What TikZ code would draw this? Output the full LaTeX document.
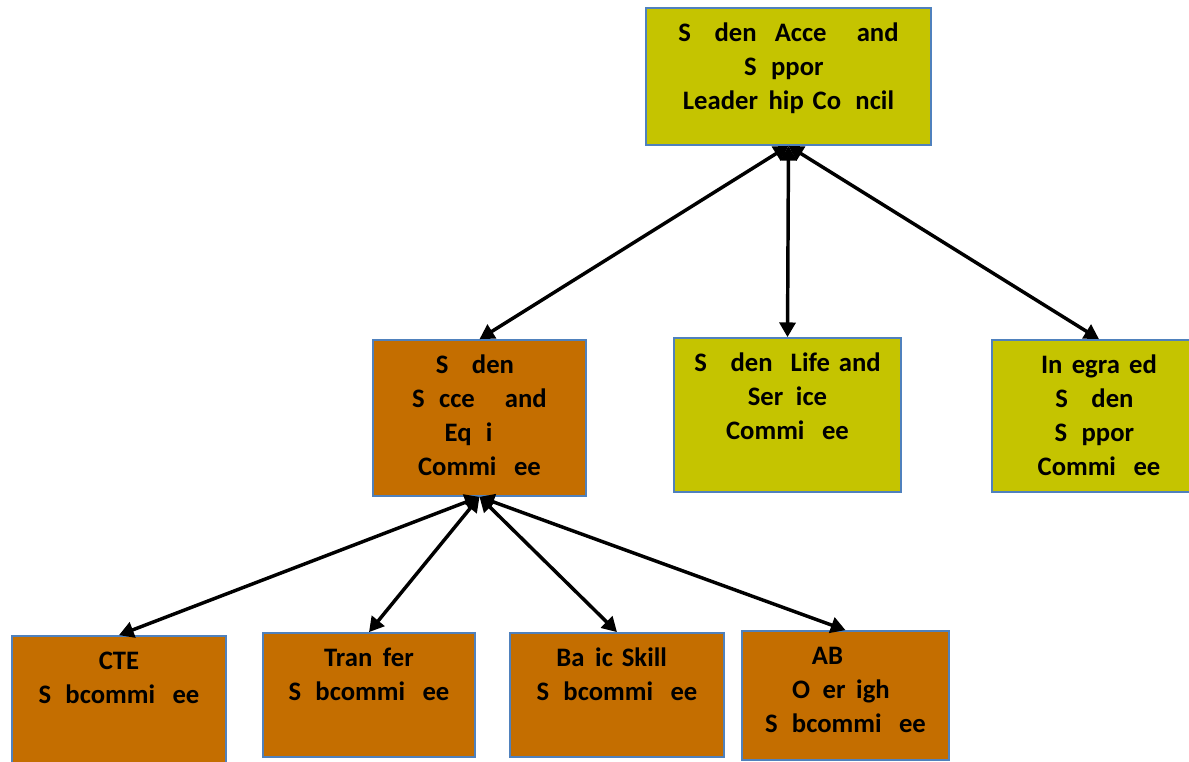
\documentclass[tikz,border=0pt]{standalone}
\usepackage{fontspec}
\setmainfont{Carlito}
\usetikzlibrary{arrows.meta}

\definecolor{olive}{RGB}{197,196,0}
\definecolor{rust}{RGB}{196,110,0}
\definecolor{edge}{RGB}{79,129,189}

% a letter the picture leaves out
\newcommand{\lost}[1]{\hphantom{#1}}

\tikzset{
  unit/.style={draw=edge, line width=1.3pt, inner sep=0pt},
  txt/.style={anchor=base, text width=200pt, align=center,
    font=\bfseries\fontsize{20}{25.3}\selectfont},
  link/.style={{Triangle[length=11pt,width=12pt]}-{Triangle[length=11pt,width=12pt]}, line width=2.6pt}
}

\begin{document}
\begin{tikzpicture}[x=0.75pt, y=-0.75pt]
  \useasboundingbox (0,0) rectangle (1189,761);

  \node[unit, fill=olive, minimum width=213.75pt, minimum height=102.75pt] (council) at (788.5,76.5) {};
  \node[unit, fill=rust, minimum width=159.75pt, minimum height=117pt] (success) at (479.5,418) {};
  \node[unit, fill=olive, minimum width=170.25pt, minimum height=115.5pt] (life) at (787.5,415) {};
  \node[unit, fill=olive, minimum width=160.5pt, minimum height=114pt] (integrated) at (1099,416) {};

  \node[unit, fill=rust, minimum width=160.5pt, minimum height=96.75pt] (cte) at (119,700.5) {};
  \node[unit, fill=rust, minimum width=159pt, minimum height=93pt] (transfer) at (369,695) {};
  \node[unit, fill=rust, minimum width=160.5pt, minimum height=93pt] (basic) at (617,695) {};
  \node[unit, fill=rust, minimum width=155.25pt, minimum height=96.75pt] (ab) at (845.5,695.5) {};

  \node[txt] (council-t) at ([yshift=-26pt]council.north)
    {S\lost{tu}den\lost{t} Acce\lost{ss} and\\ S\lost{u}ppor\lost{t}\\ Leader\lost{s}hip Co\lost{u}ncil};
  \node[txt] (success-t) at ([yshift=-26pt]success.north)
    {S\lost{tu}den\lost{t}\\ S\lost{u}cce\lost{ss} and\\ Eq\lost{u}i\lost{ty}\\ Commi\lost{tt}ee};
  \node[txt] (life-t) at ([yshift=-26pt]life.north)
    {S\lost{tu}den\lost{t} Life and\\ Ser\lost{v}ice\\ Commi\lost{tt}ee};
  \node[txt] (integrated-t) at ([yshift=-26pt]integrated.north)
    {In\lost{t}egra\lost{t}ed\\ S\lost{tu}den\lost{t}\\ S\lost{u}ppor\lost{t}\\ Commi\lost{tt}ee};

  \node[txt] (cte-t) at ([yshift=-26pt]cte.north)
    {CTE\\ S\lost{u}bcommi\lost{tt}ee};
  \node[txt] (transfer-t) at ([yshift=-26pt]transfer.north)
    {Tran\lost{s}fer\\ S\lost{u}bcommi\lost{tt}ee};
  \node[txt] (basic-t) at ([yshift=-26pt]basic.north)
    {Ba\lost{s}ic Skill\lost{s}\\ S\lost{u}bcommi\lost{tt}ee};
  \node[txt] (ab-t) at ([yshift=-26pt]ab.north)
    {AB\rule{27pt}{0pt}\\ O\lost{v}er\lost{s}igh\lost{t}\\ S\lost{u}bcommi\lost{tt}ee};

  \foreach \to in {success, life, integrated}
    \draw[link] (council.south) -- (\to.north);

  \foreach \to in {cte, transfer, basic, ab}
    \draw[link] (success.south) -- (\to.north);

\end{tikzpicture}
\end{document}
